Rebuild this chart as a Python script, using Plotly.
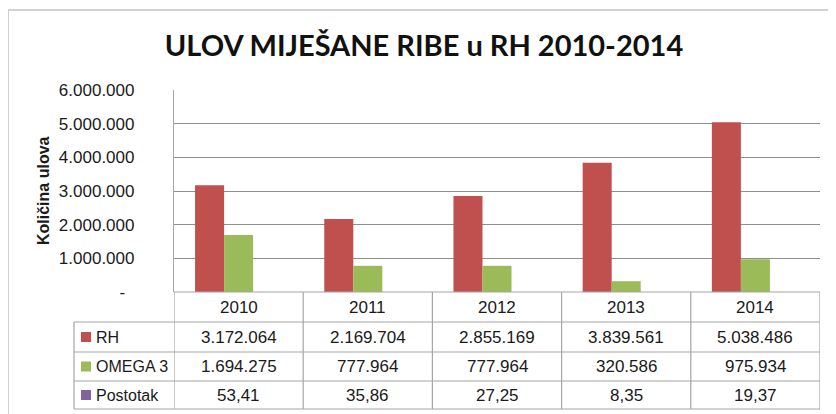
import plotly.graph_objects as go

# ---- data ----
years = ["2010", "2011", "2012", "2013", "2014"]
rh = [3172064, 2169704, 2855169, 3839561, 5038486]
omega3 = [1694275, 777964, 777964, 320586, 975934]
postotak = [53.41, 35.86, 27.25, 8.35, 19.37]
series_names = ["RH", "OMEGA 3", "Postotak"]
series_colors = ["#C0504D", "#9BBB59", "#8064A2"]
y_tickvals = [0, 1000000, 2000000, 3000000, 4000000, 5000000, 6000000]
y_ticktext = ["-\u00a0\u00a0", "1.000.000", "2.000.000", "3.000.000",
              "4.000.000", "5.000.000", "6.000.000"]
title_text = "ULOV MIJEŠANE RIBE u RH 2010-2014"
y_title = "Količina ulova"

def fmt_int(v):
    return f"{v:,}".replace(",", ".")

def fmt_dec(v):
    return f"{v:.2f}".replace(".", ",")

W, H = 836, 414
OFF = 8  # page body margin offset
PL, PT, PR, PB = 174, 90, 820, 292  # plot area in page pixels
L = PL - OFF
T = PT - OFF
PW, PH = PR - PL, PB - PT
R = W - L - PW
B = H - T - PH

def px_x(px):
    return (px - PL) / PW

def px_y(py):
    return (PB - py) / PH

TFONT = "Lato, 'Liberation Sans', sans-serif"
FONT = "'Liberation Sans', Arial, sans-serif"
GRID = "#8F8F8F"
TLINE = "#A6A6A6"
TXT = "#1a1a1a"

fig = go.Figure()
all_values = [rh, omega3, postotak]
idx = list(range(len(years)))
for name, vals, col in zip(series_names, all_values, series_colors):
    fig.add_trace(go.Bar(x=idx, y=vals, name=name, marker_color=col,
                         marker_line_width=0))

shapes = []
annotations = []

# outer chart border
shapes.append(dict(type="rect", xref="paper", yref="paper",
                   x0=px_x(8), x1=px_x(860), y0=px_y(10), y1=px_y(440),
                   line=dict(color="#C4C4C4", width=1.5), layer="below"))

# table grid
row_edges = [292, 322, 352, 381, 409]
for i, py in enumerate(row_edges):
    x0 = PL if i == 0 else 74
    shapes.append(dict(type="line", xref="paper", yref="paper",
                       x0=px_x(x0), x1=px_x(PR), y0=px_y(py), y1=px_y(py),
                       line=dict(color=TLINE, width=1.2)))
n = len(years)
for k in range(n + 1):
    shapes.append(dict(type="line", xref="x", yref="paper",
                       x0=k - 0.5, x1=k - 0.5, y0=px_y(292), y1=px_y(409),
                       line=dict(color=TLINE, width=1.2)))
shapes.append(dict(type="line", xref="paper", yref="paper",
                   x0=px_x(74), x1=px_x(74), y0=px_y(322), y1=px_y(409),
                   line=dict(color=TLINE, width=1.2)))

# year header
for i, yr in zip(idx, years):
    annotations.append(dict(x=i, y=px_y(307), xref="x", yref="paper",
                            text=yr, showarrow=False,
                            font=dict(family=FONT, size=17, color=TXT),
                            xanchor="center", yanchor="middle"))

row_centers = [337, 366.5, 395]
formatters = [fmt_int, fmt_int, fmt_dec]
for name, vals, col, cy, f in zip(series_names, all_values, series_colors,
                                  row_centers, formatters):
    shapes.append(dict(type="rect", xref="paper", yref="paper",
                       x0=px_x(81), x1=px_x(91), y0=px_y(cy + 5), y1=px_y(cy - 5),
                       fillcolor=col, line=dict(width=0)))
    annotations.append(dict(x=px_x(94), y=px_y(cy), xref="paper", yref="paper",
                            text=name, showarrow=False, xanchor="left",
                            yanchor="middle",
                            font=dict(family=FONT, size=16, color=TXT)))
    for i, v in zip(idx, vals):
        annotations.append(dict(x=i, y=px_y(cy), xref="x", yref="paper",
                                text=f(v), showarrow=False,
                                xanchor="center", yanchor="middle",
                                font=dict(family=FONT, size=17, color=TXT)))

# y axis title
annotations.append(dict(x=px_x(43), y=px_y(191), xref="paper", yref="paper",
                        text=f"<b>{y_title}</b>", textangle=-90, showarrow=False,
                        xanchor="center", yanchor="middle",
                        font=dict(family=FONT, size=16, color=TXT)))

fig.update_layout(
    width=W, height=H,
    margin=dict(l=L, r=R, t=T, b=B, autoexpand=False),
    paper_bgcolor="white", plot_bgcolor="white",
    barmode="group", bargap=0.326, bargroupgap=0,
    showlegend=False,
    title=dict(text=f"<b>{title_text}</b>", x=(424 - OFF) / W, xanchor="center",
               y=1 - (46 - OFF) / H, yanchor="middle",
               font=dict(family=TFONT, size=29, color="#111111")),
    xaxis=dict(range=[-0.5, n - 0.5], showticklabels=False,
               showgrid=False, zeroline=False, showline=False, ticks=""),
    yaxis=dict(range=[0, 6000000], tickvals=y_tickvals, ticktext=y_ticktext,
               showgrid=True, gridcolor=GRID, gridwidth=1.2, zeroline=False,
               showline=True, linecolor=TLINE, linewidth=1.2, ticks="",
               ticklabelstandoff=35,
               tickfont=dict(family=FONT, size=17, color=TXT)),
    shapes=shapes,
    annotations=annotations,
)

fig.write_html("out.html")
